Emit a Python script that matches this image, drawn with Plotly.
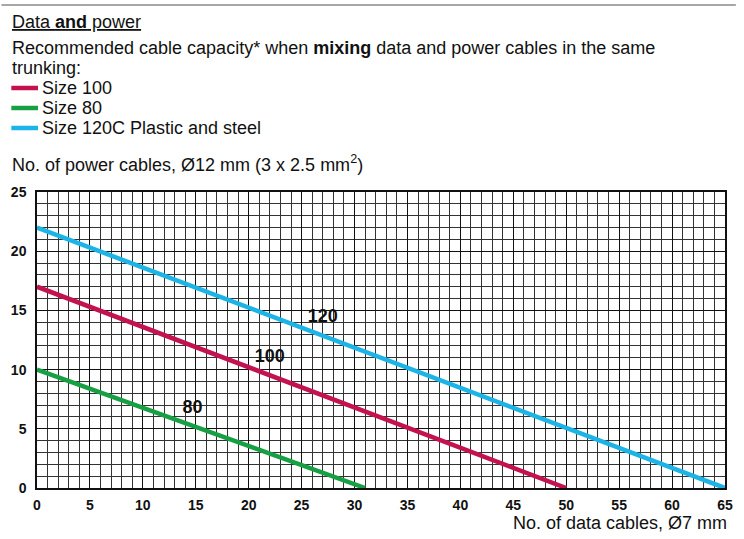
import plotly.graph_objects as go

# ---------------------------------------------------------------------
# Data: capacity lines (data cables vs power cables)
# ---------------------------------------------------------------------
size100_data = [0, 50]
size100_power = [17, 0]

size80_data = [0, 31]
size80_power = [10, 0]

size120_data = [0, 65]
size120_power = [22, 0]

x_ticks = list(range(0, 66, 5))
y_ticks = list(range(0, 26, 5))

# in-chart labels (data coordinates)
label_text = ["120", "100", "80"]
label_x = [27.0, 22.0, 14.7]
label_y = [14.4, 11.0, 6.75]

RED = "#C3124F"
GREEN = "#17A043"
CYAN = "#1CB4E6"
FONT = "Liberation Sans, Arial, sans-serif"

# ---------------------------------------------------------------------
# Figure geometry (pixels) -> paper helpers
# ---------------------------------------------------------------------
W, H = 744, 539
L, R, T, B = 36, 11, 192, 51
PW, PH = W - L - R, H - T - B


def px(x):
    return (x - L) / PW


def py(y):
    return (H - B - y) / PH


fig = go.Figure()

for xs, ys, color, name in [
    (size120_data, size120_power, CYAN, "Size 120C Plastic and steel"),
    (size100_data, size100_power, RED, "Size 100"),
    (size80_data, size80_power, GREEN, "Size 80"),
]:
    fig.add_trace(go.Scatter(x=xs, y=ys, mode="lines", name=name,
                             line=dict(color=color, width=4.5),
                             showlegend=False, hoverinfo="skip"))

fig.add_trace(go.Scatter(x=label_x, y=label_y, mode="text", text=label_text,
                         textfont=dict(family=FONT, size=18, color="#111", weight="bold"),
                         showlegend=False, hoverinfo="skip"))

axis_common = dict(
    showline=True, linecolor="#111", linewidth=1.5, mirror=True,
    showgrid=True, gridcolor="#111", gridwidth=1,
    minor=dict(dtick=1, showgrid=True, gridcolor="#333", gridwidth=1),
    zeroline=False, ticks="",
    tickfont=dict(family=FONT, size=14, color="#111", weight="bold"),
)

fig.update_xaxes(range=[0, 65], tickvals=x_ticks, ticklabelstandoff=3, **axis_common)
fig.update_yaxes(range=[0, 25], tickvals=y_ticks, ticklabelstandoff=6, **axis_common)

# ---------------------------------------------------------------------
# Header texts and legend
# ---------------------------------------------------------------------
def note(text, x, y, anchor="left", size=18):
    fig.add_annotation(text=text, x=px(x), y=py(y), xref="paper", yref="paper",
                       xanchor=anchor, yanchor="middle", showarrow=False,
                       font=dict(family=FONT, size=size, color="#111"))


note('<span style="text-decoration:underline">Data <b>and</b> power</span>', 9, 22)
note("Recommended cable capacity* when <b>mixing</b> data and power cables in the same", 9, 48)
note("trunking:", 9, 68)
note("Size 100", 39, 88)
note("Size 80", 39, 108)
note("Size 120C Plastic and steel", 39, 128)
note("No. of power cables, Ø12 mm (3 x 2.5 mm<sup>2</sup>)", 9, 163)
note("No. of data cables, Ø7 mm", 737, 523, anchor="right")

shapes = [dict(type="line", xref="paper", yref="paper", x0=px(0), x1=px(W),
               y0=py(5), y1=py(5), line=dict(color="#888", width=1.5))]
for yy, color in [(88, RED), (108, GREEN), (128, CYAN)]:
    shapes.append(dict(type="line", xref="paper", yref="paper", x0=px(10), x1=px(37),
                       y0=py(yy), y1=py(yy), line=dict(color=color, width=4.5)))

fig.update_layout(
    width=W, height=H,
    margin=dict(l=L, r=R, t=T, b=B),
    paper_bgcolor="white", plot_bgcolor="white",
    shapes=shapes,
    font=dict(family=FONT),
)

fig.write_html(
    "out.html", config={"displayModeBar": False},
    post_script=("document.body.style.margin='0';"
                 "document.body.style.overflow='hidden';"
                 "document.documentElement.style.overflow='hidden';"),
)
